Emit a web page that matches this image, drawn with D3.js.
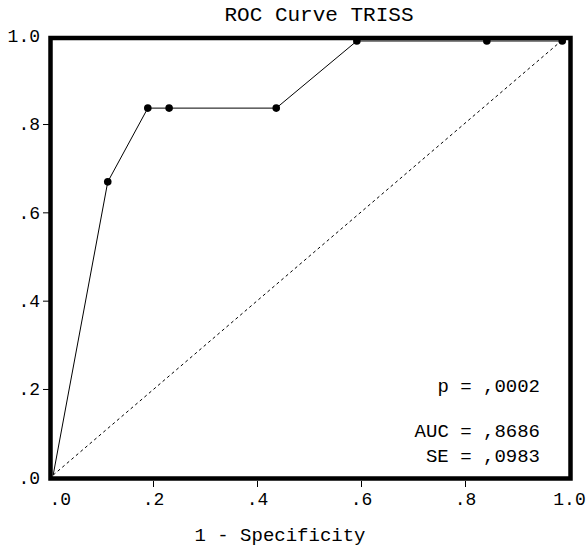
<!DOCTYPE html>
<html>
<head>
<meta charset="utf-8">
<script src="https://cdn.jsdelivr.net/npm/d3@7"></script>
<style>
  body { margin: 0; background: #fff; }
  text { font-family: "Liberation Mono", "Courier New", monospace; fill: #000; }
</style>
</head>
<body>
<div id="chart"></div>
<script>
// ROC points (1 - specificity, sensitivity)
const fpr = [0.008, 0.113, 0.190, 0.231, 0.437, 0.592, 0.842, 0.987];
const tpr = [0.005, 0.669, 0.836, 0.836, 0.836, 0.988, 0.988, 0.988];
const refLine = [[0.008, 0.005], [0.987, 0.990]];

const tickValues = [0, 0.2, 0.4, 0.6, 0.8, 1.0];
const tickLabels = [".0", ".2", ".4", ".6", ".8", "1.0"];

const titleText = "ROC Curve TRISS";
const xTitle = "1 - Specificity";
const statLines = ["p = ,0002", "AUC = ,8686", "SE = ,0983"];

document.addEventListener('DOMContentLoaded', function() {
    const width = 588;
    const height = 549;

    const x = d3.scaleLinear().domain([0, 1]).range([49, 569]);
    const y = d3.scaleLinear().domain([0, 1]).range([477.3, 35.7]);

    const svg = d3.select("#chart")
        .append("svg")
        .attr("width", width)
        .attr("height", height);

    svg.append("text")
        .attr("x", 319)
        .attr("y", 21)
        .attr("text-anchor", "middle")
        .style("font-size", "21px")
        .text(titleText);

    const fmt = d => tickLabels[tickValues.indexOf(d)];

    // y axis
    const yAxis = svg.append("g")
        .attr("transform", "translate(49,0)")
        .call(d3.axisLeft(y).tickValues(tickValues).tickFormat(fmt).tickSize(6).tickPadding(3));
    yAxis.select(".domain").remove();
    yAxis.selectAll(".tick text").style("font-size", "18px");
    yAxis.selectAll(".tick").filter(d => d === 0 || d === 1).select("line").remove();
    yAxis.selectAll(".tick line").attr("stroke", "#000");

    // x axis
    const xAxis = svg.append("g")
        .attr("transform", "translate(0,481)")
        .call(d3.axisBottom(x).tickValues(tickValues).tickFormat(fmt).tickSize(6).tickPadding(5));
    xAxis.select(".domain").remove();
    xAxis.selectAll(".tick text").style("font-size", "18px");
    xAxis.selectAll(".tick").filter(d => d === 0).select("text").attr("text-anchor", "start");
    xAxis.selectAll(".tick").filter(d => d === 0 || d === 1).select("line").remove();
    xAxis.selectAll(".tick line").attr("stroke", "#000");

    svg.append("text")
        .attr("x", 280)
        .attr("y", 541)
        .attr("text-anchor", "middle")
        .style("font-size", "19px")
        .text(xTitle);

    // reference diagonal
    svg.append("line")
        .attr("x1", x(refLine[0][0])).attr("y1", y(refLine[0][1]))
        .attr("x2", x(refLine[1][0])).attr("y2", y(refLine[1][1]))
        .attr("stroke", "#000")
        .attr("stroke-width", 1)
        .attr("stroke-dasharray", "3,3");

    const pts = fpr.map((d, i) => [d, tpr[i]]);

    svg.append("path")
        .datum(pts)
        .attr("fill", "none")
        .attr("stroke", "#000")
        .attr("stroke-width", 1)
        .attr("d", d3.line().x(d => x(d[0])).y(d => y(d[1])));

    svg.selectAll("circle.pt")
        .data(pts.slice(1))
        .enter()
        .append("circle")
        .attr("class", "pt")
        .attr("cx", d => x(d[0]))
        .attr("cy", d => y(d[1]))
        .attr("r", 3.8)
        .attr("fill", "#000");

    // frame
    svg.append("rect")
        .attr("x", 50.5)
        .attr("y", 38)
        .attr("width", 520)
        .attr("height", 440.5)
        .attr("fill", "none")
        .attr("stroke", "#000")
        .attr("stroke-width", 4.5);

    svg.selectAll("text.stat")
        .data(statLines)
        .enter()
        .append("text")
        .attr("class", "stat")
        .attr("x", 540)
        .attr("y", (d, i) => [392, 437, 462][i])
        .attr("text-anchor", "end")
        .style("font-size", "19px")
        .text(d => d);
});
</script>
</body>
</html>
